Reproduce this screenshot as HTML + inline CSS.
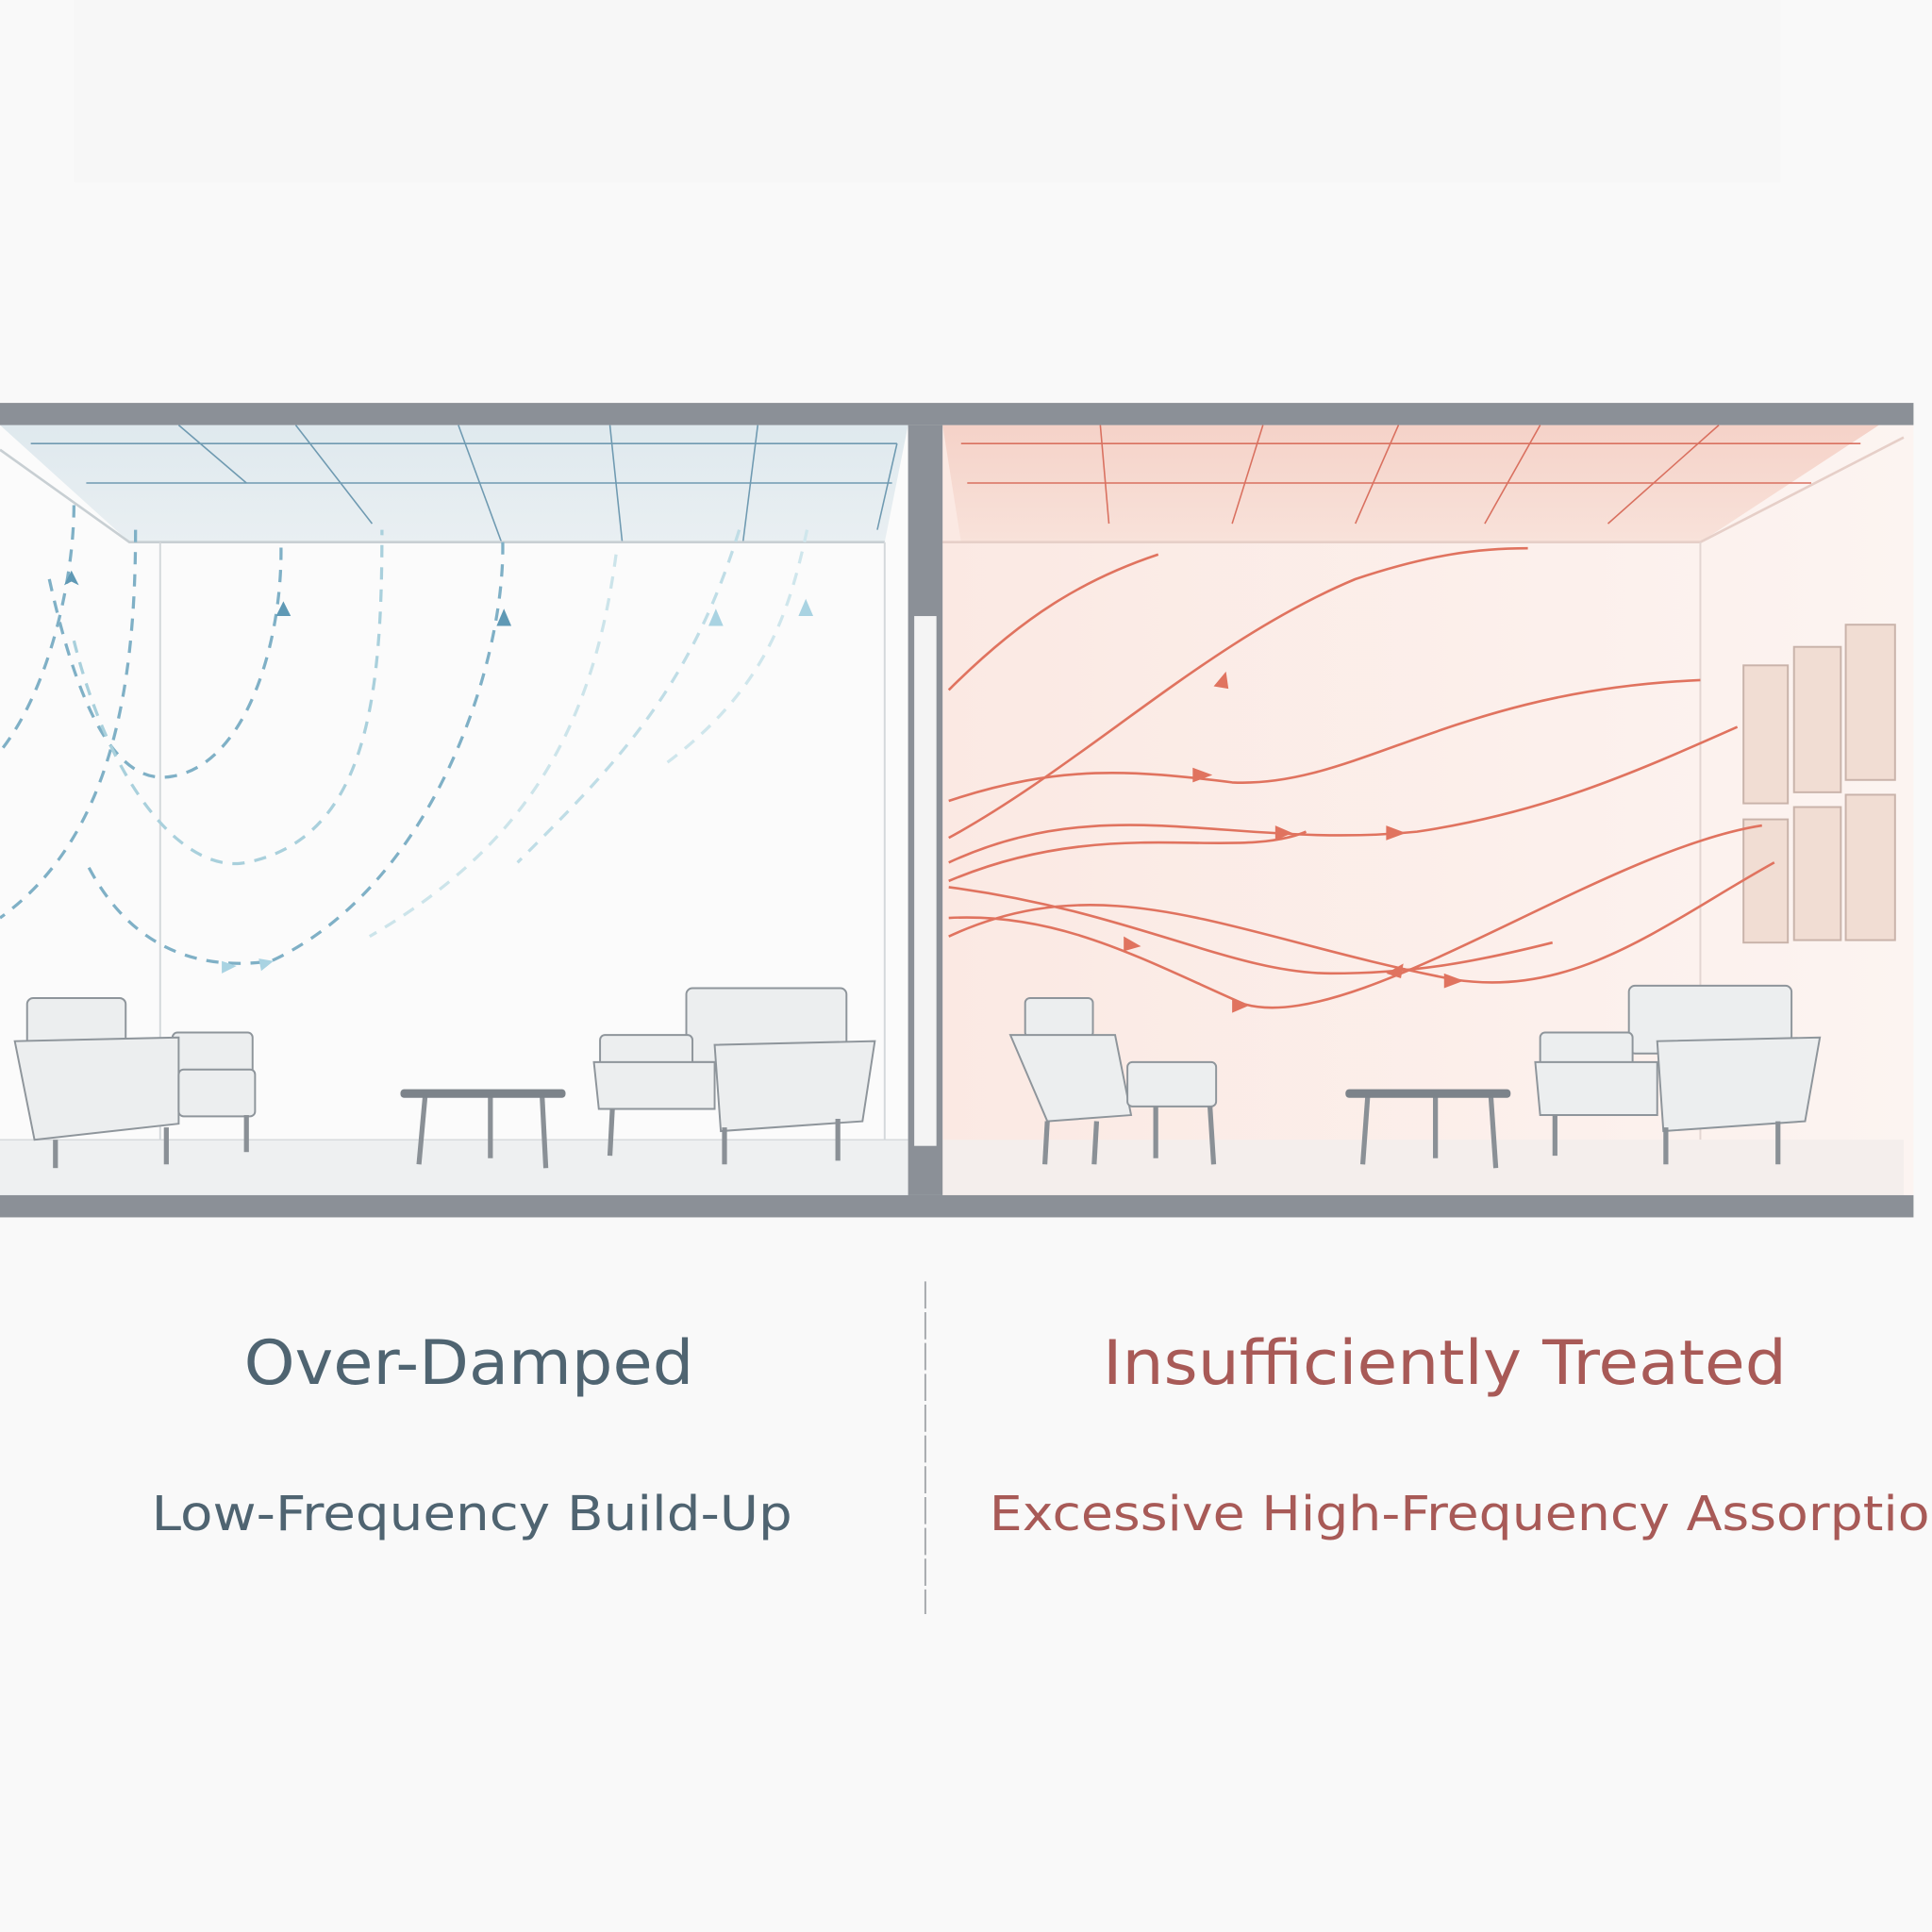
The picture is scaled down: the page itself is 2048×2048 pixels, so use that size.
<!DOCTYPE html>
<html><head><meta charset="utf-8"><style>
html,body{margin:0;padding:0;background:#f9f9f9;}
svg{display:block}
text{font-family:"DejaVu Sans","Liberation Sans",sans-serif}
</style></head><body>
<svg width="2048" height="2048" viewBox="0 0 1568 1568" xmlns="http://www.w3.org/2000/svg">
<defs>
<linearGradient id="lc" x1="0" y1="0" x2="0" y2="1"><stop offset="0" stop-color="#dfe9ee"/><stop offset="1" stop-color="#e9eff2"/></linearGradient>
<linearGradient id="rc" x1="0" y1="0" x2="0" y2="1"><stop offset="0" stop-color="#f5d2c8"/><stop offset="1" stop-color="#f8e2da"/></linearGradient>
<linearGradient id="rw" x1="0" y1="0" x2="1" y2="0"><stop offset="0" stop-color="#fbe9e3"/><stop offset="1" stop-color="#fcf4f1"/></linearGradient>
</defs>
<rect width="1568" height="1568" fill="#f9f9f9"/>
<rect x="60" y="0" width="1385" height="148" fill="#f7f7f7"/>
<rect x="0" y="345" width="737" height="625" fill="#fbfbfb"/>
<polygon points="0,345 737,345 718,440 105,440" fill="url(#lc)"/>
<g stroke="#6f9ab1" stroke-width="1.2" fill="none">
<line x1="25" y1="360" x2="728" y2="360"/><line x1="70" y1="392" x2="724" y2="392"/>
<line x1="145" y1="345" x2="200" y2="392"/><line x1="240" y1="345" x2="302" y2="425"/>
<line x1="372" y1="345" x2="407" y2="440"/><line x1="495" y1="345" x2="505" y2="440"/>
<line x1="615" y1="345" x2="603" y2="440"/><line x1="728" y1="360" x2="712" y2="430"/>
</g>
<polyline points="0,365 105,440 718,440" fill="none" stroke="#c8cfd3" stroke-width="2"/>
<line x1="130" y1="440" x2="130" y2="925" stroke="#d4d8db" stroke-width="1.5"/>
<line x1="718" y1="440" x2="718" y2="925" stroke="#d4d8db" stroke-width="1.5"/>
<rect x="0" y="925" width="737" height="45" fill="#eef0f1"/>
<line x1="0" y1="925" x2="737" y2="925" stroke="#d4d8db"/>
<rect x="765" y="345" width="788" height="625" fill="url(#rw)"/>
<polygon points="765,345 1525,345 1380,440 780,440" fill="url(#rc)"/>
<g stroke="#d9705f" stroke-width="1.2" fill="none">
<line x1="780" y1="360" x2="1510" y2="360"/><line x1="785" y1="392" x2="1470" y2="392"/>
<line x1="893" y1="345" x2="900" y2="425"/><line x1="1025" y1="345" x2="1000" y2="425"/>
<line x1="1135" y1="345" x2="1100" y2="425"/><line x1="1250" y1="345" x2="1205" y2="425"/>
<line x1="1395" y1="345" x2="1305" y2="425"/>
</g>
<polyline points="765,440 1380,440 1545,355" fill="none" stroke="#e6cfc8" stroke-width="2"/>
<line x1="1380" y1="440" x2="1380" y2="925" stroke="#e3d6d2" stroke-width="1.5"/>
<rect x="765" y="925" width="780" height="45" fill="#f4eeec"/>
<g fill="#f1ddd3" stroke="#c9b3aa" stroke-width="1.5">
<rect x="1415" y="540" width="36" height="112"/><rect x="1456" y="525" width="38" height="118"/><rect x="1498" y="507" width="40" height="126"/>
<rect x="1415" y="665" width="36" height="100"/><rect x="1456" y="655" width="38" height="108"/><rect x="1498" y="645" width="40" height="118"/>
</g>
<rect x="0" y="327" width="1553" height="18" fill="#8b9097"/>
<rect x="0" y="970" width="1553" height="18" fill="#8b9097"/>
<rect x="737" y="345" width="28" height="625" fill="#8b9097"/>
<rect x="742" y="500" width="18" height="430" fill="#f4f4f4"/>
<g fill="none" stroke="#7fb0c6" stroke-width="2.5" stroke-dasharray="10 8">
<path d="M60,410 C60,470 40,560 0,610"/>
<path d="M40,470 C60,560 90,640 140,630 C200,620 230,520 228,440"/>
<path d="M110,430 C110,560 90,680 0,745"/>
<path d="M60,520 C90,640 150,710 200,700 C300,680 310,560 310,430" stroke="#a9d0dc"/>
<path d="M408,440 C410,540 350,720 220,780 C150,790 100,760 70,700"/>
<path d="M600,430 C560,560 500,620 420,700" stroke="#bfdde6"/>
<path d="M655,430 C640,500 620,560 540,620" stroke="#cfe6ec"/>
<path d="M500,450 C480,600 420,690 300,760" stroke="#cce4ea"/>
</g>
<g fill="#5f99b5"><path d="M52,475 l6,-12 6,12 -6,-3z"/><path d="M224,500 l6,-12 6,12z"/><path d="M403,508 l6,-14 6,14z"/></g>
<g fill="#a9d3e2"><path d="M575,508 l6,-14 6,14z"/><path d="M648,500 l6,-14 6,14z"/><path d="M180,780 l12,4 -12,6z"/><path d="M210,778 l12,2 -10,8z"/></g>
<g fill="none" stroke="#e0735f" stroke-width="2">
<path d="M770,560 C830,500 880,470 940,450"/>
<path d="M770,680 C880,620 980,520 1100,470 C1160,450 1200,445 1240,445"/>
<path d="M770,650 C860,620 920,625 1000,635 C1100,640 1180,560 1380,552"/>
<path d="M770,700 C900,640 1000,690 1150,675 C1250,660 1320,630 1410,590"/>
<path d="M770,715 C900,660 1000,700 1060,675"/>
<path d="M770,745 C860,740 930,780 1010,815 C1100,840 1300,690 1430,670"/>
<path d="M770,760 C900,700 1000,760 1180,795 C1280,810 1350,750 1440,700"/>
<path d="M770,720 C920,740 1000,790 1080,790 C1150,790 1200,780 1260,765"/>
</g>
<g fill="#e0735f"><path d="M985,557 l10,-12 2,14z"/><path d="M968,623 l16,6 -16,6z"/><path d="M1035,670 l14,6 -14,6z"/><path d="M1125,670 l16,6 -16,6z"/><path d="M912,760 l14,8 -14,4z"/><path d="M1000,810 l14,6 -14,6z"/><path d="M1172,790 l16,6 -16,6z"/><path d="M1125,790 l14,-8 -2,12z"/></g>
<g fill="#eceeef" stroke="#8e959b" stroke-width="1.5">
<rect x="22" y="810" width="80" height="45" rx="5"/>
<rect x="140" y="838" width="65" height="40" rx="4"/>
<path d="M12,845 L145,842 L145,912 L28,925 Z"/>
<rect x="145" y="868" width="62" height="38" rx="4"/>
<rect x="557" y="802" width="130" height="60" rx="5"/>
<rect x="487" y="840" width="75" height="35" rx="4"/>
<path d="M482,862 L580,862 L580,900 L486,900 Z"/>
<path d="M580,848 L710,845 L700,910 L585,918 Z"/>
<rect x="832" y="810" width="55" height="32" rx="4"/>
<path d="M820,840 L905,840 L918,905 L850,910 Z"/>
<rect x="915" y="862" width="72" height="36" rx="4"/>
<rect x="1322" y="800" width="132" height="55" rx="5"/>
<rect x="1250" y="838" width="75" height="35" rx="4"/>
<path d="M1246,862 L1345,862 L1345,905 L1250,905 Z"/>
<path d="M1345,845 L1477,842 L1465,910 L1350,918 Z"/>
</g>
<g stroke="#8a9096" stroke-width="4" fill="none">
<line x1="45" y1="925" x2="45" y2="948"/><line x1="135" y1="915" x2="135" y2="945"/><line x1="200" y1="905" x2="200" y2="935"/>
<line x1="497" y1="900" x2="495" y2="938"/><line x1="588" y1="915" x2="588" y2="945"/><line x1="680" y1="908" x2="680" y2="942"/>
<line x1="850" y1="910" x2="848" y2="945"/><line x1="890" y1="910" x2="888" y2="945"/><line x1="938" y1="898" x2="938" y2="940"/><line x1="982" y1="898" x2="985" y2="945"/>
<line x1="1262" y1="905" x2="1262" y2="938"/><line x1="1352" y1="915" x2="1352" y2="945"/><line x1="1443" y1="910" x2="1443" y2="945"/>
<line x1="345" y1="890" x2="340" y2="945"/><line x1="398" y1="890" x2="398" y2="940"/><line x1="440" y1="890" x2="443" y2="948"/>
<line x1="1110" y1="890" x2="1106" y2="945"/><line x1="1165" y1="890" x2="1165" y2="940"/><line x1="1210" y1="890" x2="1214" y2="948"/>
</g>
<rect x="325" y="884" width="134" height="7" rx="3" fill="#7c838a"/>
<rect x="1092" y="884" width="134" height="7" rx="3" fill="#7c838a"/>
<line x1="751" y1="1040" x2="751" y2="1310" stroke="#a5a9ad" stroke-width="1.5" stroke-dasharray="22 3"/>
<text x="198" y="1123" font-size="50" fill="#4f6471" textLength="365" lengthAdjust="spacingAndGlyphs">Over-Damped</text>
<text x="895" y="1123" font-size="50" fill="#a85a57" textLength="555" lengthAdjust="spacingAndGlyphs">Insufficiently Treated</text>
<text x="123" y="1242" font-size="39" fill="#4f6471" textLength="520" lengthAdjust="spacingAndGlyphs">Low-Frequency Build-Up</text>
<text x="803" y="1242" font-size="39" fill="#a85a57" textLength="790" lengthAdjust="spacingAndGlyphs">Excessive High-Frequency Assorption</text>
</svg>
</body></html>
